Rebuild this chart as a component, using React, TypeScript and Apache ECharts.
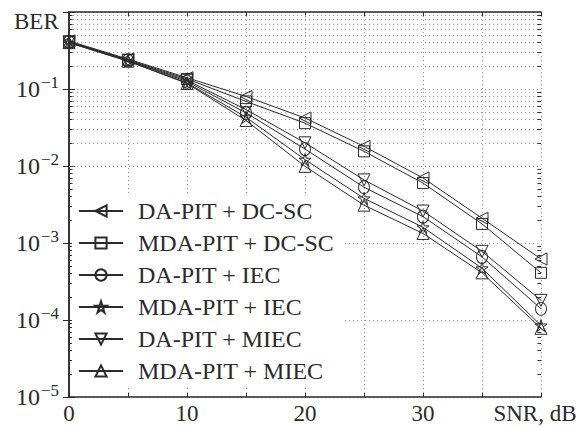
import React, { useEffect, useRef } from "react";
import * as echarts from "echarts";

// SNR values (dB) and BER for each detection scheme
const snr = [0, 5, 10, 15, 20, 25, 30, 35, 40];
const daPitDcSc = [0.42, 0.245, 0.14, 0.08, 0.042, 0.018, 0.007, 0.0021, 0.00062];
const mdaPitDcSc = [0.41, 0.24, 0.135, 0.069, 0.036, 0.0155, 0.006, 0.00177, 0.00041];
const daPitIec = [0.41, 0.235, 0.125, 0.049, 0.0166, 0.0053, 0.0022, 0.00066, 0.00014];
const mdaPitIec = [0.4, 0.23, 0.12, 0.043, 0.0121, 0.0038, 0.0016, 0.00047, 0.000085];
const daPitMiec = [0.41, 0.235, 0.13, 0.054, 0.02, 0.0066, 0.0026, 0.00078, 0.00018];
const mdaPitMiec = [0.4, 0.23, 0.118, 0.039, 0.0099, 0.0031, 0.00133, 0.00041, 0.000078];

const seriesNames = [
  "DA-PIT + DC-SC",
  "MDA-PIT + DC-SC",
  "DA-PIT + IEC",
  "MDA-PIT + IEC",
  "DA-PIT + MIEC",
  "MDA-PIT + MIEC",
];
const seriesValues = [daPitDcSc, mdaPitDcSc, daPitIec, mdaPitIec, daPitMiec, mdaPitMiec];

const xTickLabels: Record<number, string> = { 0: "0", 10: "10", 20: "20", 30: "30", 40: "{n|SNR, dB}" };
const decadeExponents = [-5, -4, -3, -2, -1];
const minorMantissas = [2, 3, 4, 5, 6, 7, 8, 9];

const STAR =
  "path://M50,0 L61.2,34.5 L97.6,34.5 L68.2,55.9 L79.4,90.5 L50,69.1 L20.6,90.5 L31.8,55.9 L2.4,34.5 L38.8,34.5 Z";

const markers: { symbol: string; size: number | number[]; rotate: number }[] = [
  { symbol: "triangle", size: 12, rotate: 90 },
  { symbol: "rect", size: 11, rotate: 0 },
  { symbol: "circle", size: [11, 13], rotate: 0 },
  { symbol: STAR, size: 12, rotate: 0 },
  { symbol: "triangle", size: 12, rotate: 180 },
  { symbol: "triangle", size: 12, rotate: 0 },
];

const INK = "#2a2a2a";
const GRID = "#9a9a9a";
const FONT = "'Liberation Serif', 'Times New Roman', serif";

export default function App() {
  const ref = useRef<HTMLDivElement>(null);

  useEffect(() => {
    if (!ref.current) return;
    document.body.style.margin = "0";
    const chart = echarts.init(ref.current, undefined, { renderer: "svg" });

    const minorValues: number[] = [];
    decadeExponents.forEach((e) => {
      minorMantissas.forEach((m) => minorValues.push(m * Math.pow(10, e)));
    });

    const gridLines = minorValues.map((v) => ({ yAxis: v }));
    const minorTicks: any[] = [];
    minorValues.forEach((v) => {
      minorTicks.push([{ coord: [0, v] }, { coord: [0.3, v] }]);
      minorTicks.push([{ coord: [40, v] }, { coord: [39.7, v] }]);
    });

    const series: any[] = seriesNames.map((name, i) => ({
      name,
      type: "line",
      data: snr.map((x, j) => [x, seriesValues[i][j]]),
      symbol: markers[i].symbol,
      symbolSize: markers[i].size,
      symbolRotate: markers[i].rotate,
      showSymbol: true,
      lineStyle: { color: INK, width: 1 },
      itemStyle: { color: "rgba(255,255,255,0)", borderColor: INK, borderWidth: 1 },
      z: 3,
    }));

    series[0].markLine = {
      silent: true,
      symbol: "none",
      label: { show: false },
      lineStyle: { color: GRID, type: [1, 3], width: 1 },
      data: gridLines,
      z: 1,
    };
    series[1].markLine = {
      silent: true,
      symbol: "none",
      label: { show: false },
      lineStyle: { color: INK, type: "solid", width: 1 },
      data: minorTicks,
      z: 1,
    };

    const logAxisBase = {
      type: "log",
      logBase: 10,
      min: 1e-5,
      max: 1,
      axisLine: { show: true, lineStyle: { color: INK, width: 1.5 } },
      axisTick: { show: true, inside: true, length: 6, lineStyle: { color: INK } },
      minorTick: { show: false },
    };

    chart.setOption({
      animation: false,
      grid: { left: 69, right: 42, top: 12, bottom: 30, containLabel: false },
      legend: {
        data: seriesNames,
        orient: "vertical",
        left: 72,
        top: 195,
        itemWidth: 44,
        itemHeight: 14,
        itemGap: 8,
        padding: [4, 8, 4, 6],
        backgroundColor: "#ffffff",
        textStyle: {
          fontFamily: FONT,
          fontSize: 24,
          lineHeight: 24,
          color: INK,
          padding: [0, 0, 0, 10],
        },
      },
      xAxis: [
        {
          type: "value",
          min: 0,
          max: 40,
          interval: 5,
          axisLine: { show: true, onZero: false, lineStyle: { color: INK, width: 1.5 } },
          axisTick: { show: true, inside: true, length: 4, lineStyle: { color: INK } },
          axisLabel: {
            fontFamily: FONT,
            fontSize: 23,
            color: INK,
            margin: 5,
            formatter: (v: number) => xTickLabels[v] ?? "",
            rich: {
              n: { fontFamily: FONT, fontSize: 23, color: INK, padding: [0, 12, 0, 0] },
            },
          },
          splitLine: { show: true, lineStyle: { color: GRID, type: [1, 3], width: 1 } },
        },
        {
          type: "value",
          position: "top",
          min: 0,
          max: 40,
          interval: 5,
          axisLine: { show: true, onZero: false, lineStyle: { color: INK, width: 1.5 } },
          axisTick: { show: true, inside: true, length: 4, lineStyle: { color: INK } },
          axisLabel: { show: false },
          splitLine: { show: false },
        },
      ],
      yAxis: [
        {
          ...logAxisBase,
          position: "left",
          axisLabel: {
            margin: 10,
            color: INK,
            formatter: (v: number) => {
              const e = Math.round(Math.log10(v));
              if (e === 0) return "";
              return `{b|10}{s|−${-e}}`;
            },
            rich: {
              b: { fontFamily: FONT, fontSize: 24, color: INK },
              s: { fontFamily: FONT, fontSize: 17, color: INK, padding: [0, 0, 14, 1] },
            },
          },
          splitLine: { show: true, lineStyle: { color: GRID, type: [1, 3], width: 1 } },
        },
        {
          ...logAxisBase,
          position: "right",
          axisLabel: { show: false },
          splitLine: { show: false },
        },
      ],
      graphic: [
        {
          type: "text",
          left: 14,
          top: 10,
          style: { text: "BER", fontFamily: FONT, fontSize: 23, fill: INK },
        },
      ],
      series,
    });

    return () => chart.dispose();
  }, []);

  return <div ref={ref} style={{ width: 583, height: 427 }} />;
}
